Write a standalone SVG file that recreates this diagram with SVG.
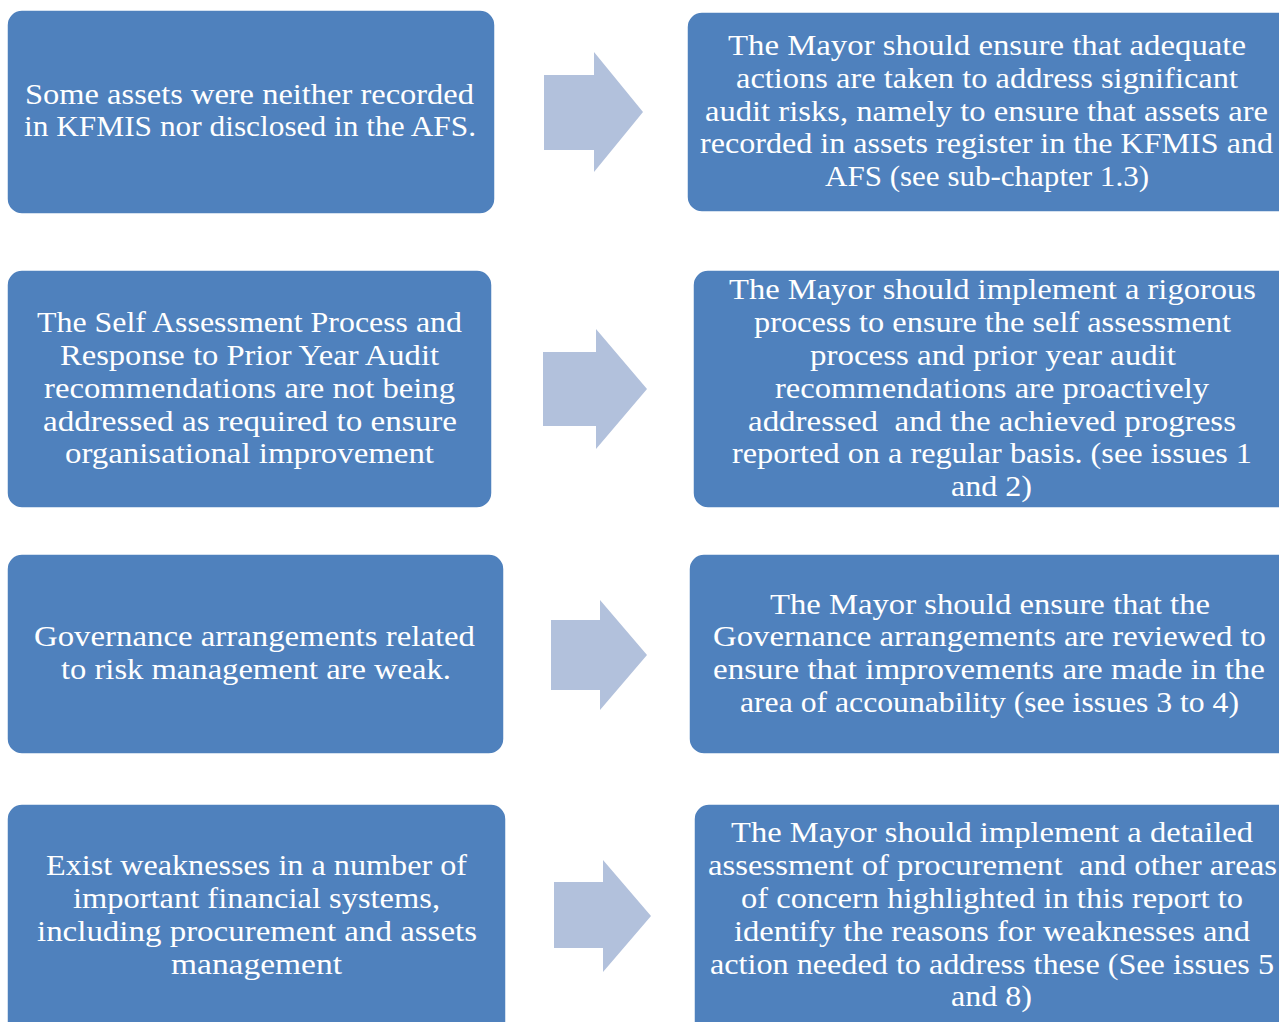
<svg xmlns="http://www.w3.org/2000/svg" width="1279" height="1022" viewBox="0 0 1279 1022">
<style>
.box{fill:#4F81BD;stroke:#ffffff;stroke-width:1.5}
.arr{fill:#B2C1DC}
text{font-family:"Liberation Serif","Times New Roman",serif;font-size:29px;fill:#ffffff}
</style>
<rect width="1279" height="1022" fill="#ffffff"/>
<g id="connectors">
<polygon class="arr" points="544,75 594,75 594,52 643,112 594,172 594,150 544,150"/>
<polygon class="arr" points="543,352 596,352 596,329 647,389 596,449 596,426 543,426"/>
<polygon class="arr" points="551,620 600,620 600,600 647,655 600,710 600,690 551,690"/>
<polygon class="arr" points="554,882 603,882 603,860 651,916 603,972 603,948 554,948"/>
</g>
<g id="node-l1">
<rect class="box" x="7" y="10" width="488" height="204" rx="15"/>
<text x="25" y="104" textLength="449" lengthAdjust="spacingAndGlyphs">Some assets were neither recorded</text>
<text x="24" y="136" textLength="452" lengthAdjust="spacingAndGlyphs">in KFMIS nor disclosed in the AFS.</text>
</g>
<g id="node-r1">
<rect class="box" x="687" y="12" width="610" height="200" rx="15"/>
<text x="728" y="55" textLength="518" lengthAdjust="spacingAndGlyphs">The Mayor should ensure that adequate</text>
<text x="736" y="88" textLength="502" lengthAdjust="spacingAndGlyphs">actions are taken to address significant</text>
<text x="705" y="121" textLength="563" lengthAdjust="spacingAndGlyphs">audit risks, namely to ensure that assets are</text>
<text x="700" y="153" textLength="573" lengthAdjust="spacingAndGlyphs">recorded in assets register in the KFMIS and</text>
<text x="825" y="186" textLength="324" lengthAdjust="spacingAndGlyphs">AFS (see sub-chapter 1.3)</text>
</g>
<g id="node-l2">
<rect class="box" x="7" y="270" width="485" height="238" rx="15"/>
<text x="37" y="332" textLength="425" lengthAdjust="spacingAndGlyphs">The Self Assessment Process and</text>
<text x="60" y="365" textLength="379" lengthAdjust="spacingAndGlyphs">Response to Prior Year Audit</text>
<text x="44" y="398" textLength="411" lengthAdjust="spacingAndGlyphs">recommendations are not being</text>
<text x="43" y="431" textLength="414" lengthAdjust="spacingAndGlyphs">addressed as required to ensure</text>
<text x="65" y="463" textLength="369" lengthAdjust="spacingAndGlyphs">organisational improvement</text>
</g>
<g id="node-r2">
<rect class="box" x="693" y="270" width="604" height="238" rx="15"/>
<text x="729" y="299" textLength="527" lengthAdjust="spacingAndGlyphs">The Mayor should implement a rigorous</text>
<text x="754" y="332" textLength="477" lengthAdjust="spacingAndGlyphs">process to ensure the self assessment</text>
<text x="810" y="365" textLength="366" lengthAdjust="spacingAndGlyphs">process and prior year audit</text>
<text x="775" y="398" textLength="434" lengthAdjust="spacingAndGlyphs">recommendations are proactively</text>
<text x="748" y="431" textLength="488" lengthAdjust="spacingAndGlyphs" xml:space="preserve">addressed  and the achieved progress</text>
<text x="732" y="463" textLength="520" lengthAdjust="spacingAndGlyphs">reported on a regular basis. (see issues 1</text>
<text x="951" y="496" textLength="81" lengthAdjust="spacingAndGlyphs">and 2)</text>
</g>
<g id="node-l3">
<rect class="box" x="7" y="554" width="497" height="200" rx="15"/>
<text x="34" y="646" textLength="441" lengthAdjust="spacingAndGlyphs">Governance arrangements related</text>
<text x="61" y="679" textLength="390" lengthAdjust="spacingAndGlyphs">to risk management are weak.</text>
</g>
<g id="node-r3">
<rect class="box" x="689" y="554" width="608" height="200" rx="15"/>
<text x="770" y="614" textLength="440" lengthAdjust="spacingAndGlyphs">The Mayor should ensure that the</text>
<text x="713" y="646" textLength="553" lengthAdjust="spacingAndGlyphs">Governance arrangements are reviewed to</text>
<text x="713" y="679" textLength="552" lengthAdjust="spacingAndGlyphs">ensure that improvements are made in the</text>
<text x="740" y="712" textLength="499" lengthAdjust="spacingAndGlyphs">area of accounability (see issues 3 to 4)</text>
</g>
<g id="node-l4">
<rect class="box" x="7" y="804" width="499" height="240" rx="15"/>
<text x="46" y="875" textLength="421" lengthAdjust="spacingAndGlyphs">Exist weaknesses in a number of</text>
<text x="73" y="908" textLength="367" lengthAdjust="spacingAndGlyphs">important financial systems,</text>
<text x="37" y="941" textLength="440" lengthAdjust="spacingAndGlyphs">including procurement and assets</text>
<text x="171" y="974" textLength="171" lengthAdjust="spacingAndGlyphs">management</text>
</g>
<g id="node-r4">
<rect class="box" x="694" y="804" width="603" height="240" rx="15"/>
<text x="731" y="842" textLength="522" lengthAdjust="spacingAndGlyphs">The Mayor should implement a detailed</text>
<text x="708" y="875" textLength="569" lengthAdjust="spacingAndGlyphs" xml:space="preserve">assessment of procurement  and other areas</text>
<text x="741" y="908" textLength="502" lengthAdjust="spacingAndGlyphs">of concern highlighted in this report to</text>
<text x="734" y="941" textLength="516" lengthAdjust="spacingAndGlyphs">identify the reasons for weaknesses and</text>
<text x="710" y="974" textLength="564" lengthAdjust="spacingAndGlyphs">action needed to address these (See issues 5</text>
<text x="951" y="1006" textLength="81" lengthAdjust="spacingAndGlyphs">and 8)</text>
</g>
</svg>
